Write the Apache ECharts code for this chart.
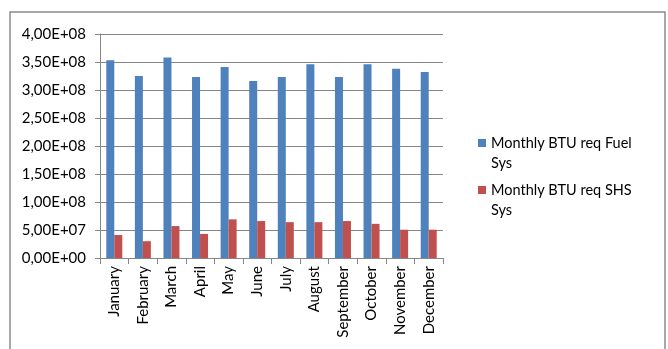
<!DOCTYPE html>
<html>
<head>
<meta charset="utf-8">
<script src="https://cdn.jsdelivr.net/npm/echarts@6/dist/echarts.min.js"></script>
<style>
    html, body {margin: 0; padding: 0; background: #fff;}
    #chart {width: 668px; height: 349px;}
</style>
</head>
<body>
<div id="chart"></div>
<script>
var months = ["January", "February", "March", "April", "May", "June", "July",
    "August", "September", "October", "November", "December"];
var fuelSys = [3.53e8, 3.25e8, 3.58e8, 3.23e8, 3.41e8, 3.16e8, 3.23e8, 3.46e8, 3.23e8, 3.46e8, 3.38e8, 3.32e8];
var shsSys = [4.1e7, 3.0e7, 5.7e7, 4.3e7, 6.9e7, 6.6e7, 6.4e7, 6.4e7, 6.6e7, 6.1e7, 5.05e7, 5.05e7];
var seriesNames = ["Monthly BTU req Fuel Sys", "Monthly BTU req SHS Sys"];
// blank first line so the swatch lines up with the first text line
var legendLines = {
    "Monthly BTU req Fuel Sys": " \nMonthly BTU req Fuel\nSys",
    "Monthly BTU req SHS Sys": " \nMonthly BTU req SHS\nSys"
};

var font = "Lato";

function sciLabel(value) {
    // 4.00e+8 -> 4,00E+08
    var parts = Number(value).toExponential(2).split("e");
    var exp = parseInt(parts[1], 10);
    var sign = exp < 0 ? "-" : "+";
    var digits = Math.abs(exp) < 10 ? "0" + Math.abs(exp) : "" + Math.abs(exp);
    return parts[0].replace(".", ",") + "E" + sign + digits;
}

function legendItem(name, top) {
    return {
        data: [name],
        left: 473,
        top: top,
        orient: "vertical",
        itemWidth: 8,
        itemHeight: 8,
        icon: "rect",
        selectedMode: false,
        formatter: function (n) {
            return legendLines[n];
        },
        textStyle: {
            fontFamily: font,
            fontSize: 14.5,
            color: "#000",
            lineHeight: 20
        }
    };
}

var chart = echarts.init(document.getElementById("chart"));
var option = {
    animation: false,
    graphic: [{
        type: "rect",
        shape: {x: 10, y: 12, width: 655, height: 400},
        style: {fill: "none", stroke: "#8c8c8c", lineWidth: 1.5},
        silent: true
    }],
    legend: [legendItem(seriesNames[0], 108), legendItem(seriesNames[1], 155)],
    grid: {left: 100, right: 225, top: 34, bottom: 91},
    xAxis: {
        type: "category",
        data: months,
        axisLine: {lineStyle: {color: "#868686", width: 1}},
        axisTick: {show: true, length: 6, lineStyle: {color: "#868686"}},
        axisLabel: {
            rotate: 90,
            interval: 0,
            margin: 8,
            fontFamily: font,
            fontSize: 15,
            color: "#000"
        }
    },
    yAxis: {
        type: "value",
        min: 0,
        max: 4e8,
        interval: 5e7,
        axisLine: {show: true, lineStyle: {color: "#868686"}},
        axisTick: {show: true, length: 5, lineStyle: {color: "#868686"}},
        splitLine: {lineStyle: {color: "#868686"}},
        axisLabel: {
            formatter: sciLabel,
            margin: 14,
            fontFamily: font,
            fontSize: 15,
            color: "#000"
        }
    },
    series: [{
        name: seriesNames[0],
        type: "bar",
        data: fuelSys,
        barWidth: 8,
        barGap: "0%",
        itemStyle: {color: "#4f81bd"}
    }, {
        name: seriesNames[1],
        type: "bar",
        data: shsSys,
        barWidth: 8,
        barGap: "0%",
        itemStyle: {color: "#c0504d"}
    }]
};
chart.setOption(option);
</script>
</body>
</html>
